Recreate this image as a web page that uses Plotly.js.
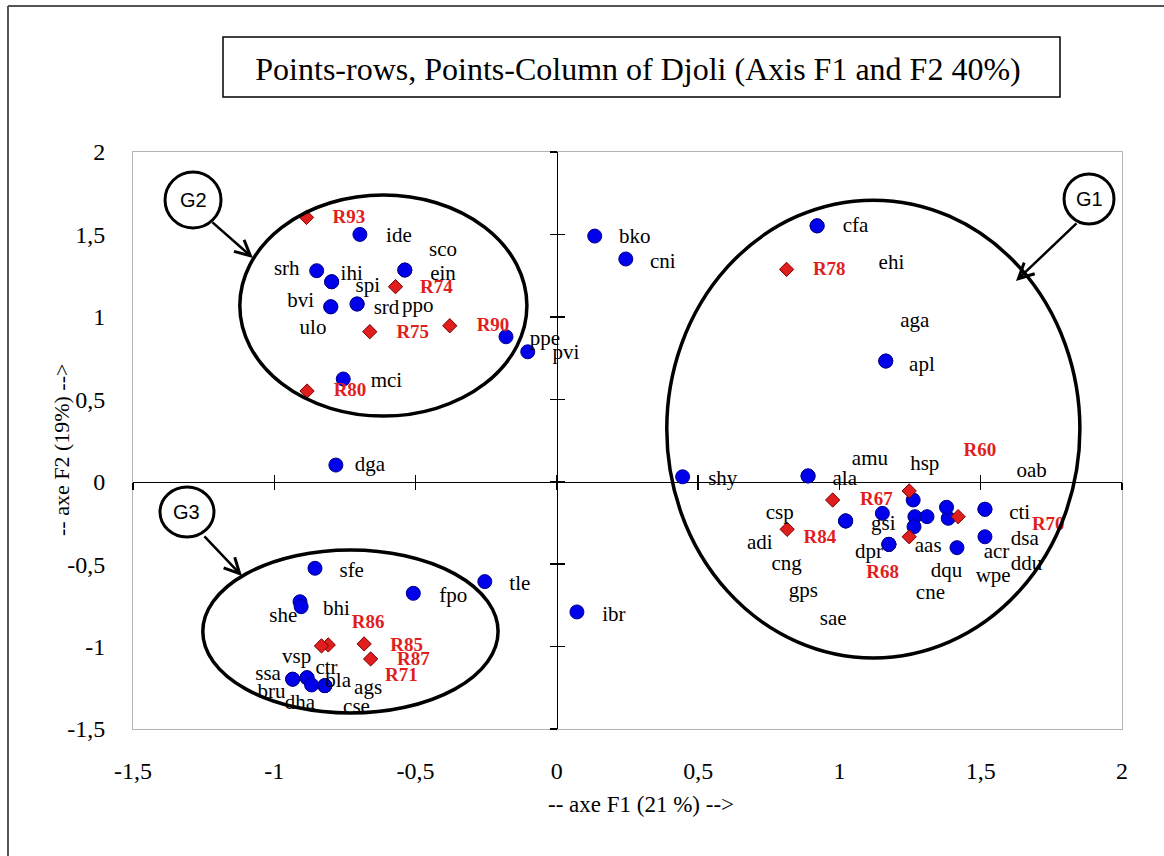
<!DOCTYPE html>
<html>
<head>
<meta charset="utf-8">
<script src="https://cdn.plot.ly/plotly-3.0.1.min.js"></script>
<style>html,body{margin:0;padding:0;background:#fff;}#chart{width:1164px;height:856px;}</style>
</head>
<body>
<div id="chart"></div>
<script>
// ---- Column points (species) ----
const colNames = ["ide","sco","srh","ihi","ein","spi","bvi","srd","ppo","ulo","mci","ppe","pvi","dga","bko","cni",
  "cfa","ehi","aga","apl","shy","ala","amu","hsp","oab","csp","adi","cng","gps","sae","gsi","dpr","aas","dqu","cne",
  "cti","dsa","acr","ddu","wpe","sfe","fpo","tle","she","bhi","ibr","vsp","ssa","ctr","bla","ags","bru","dha","cse"];
const colF1 = [-0.697,-0.538,-0.850,-0.797,-0.538,-0.797,-0.800,-0.707,-0.707,-0.800,-0.756,-0.180,-0.103,-0.782,0.134,0.244,
  0.921,0.921,1.164,1.164,0.445,0.889,0.889,1.261,1.515,1.022,1.022,1.022,1.175,1.175,1.152,1.175,1.267,1.264,1.310,
  1.515,1.515,1.416,1.385,1.379,-0.856,-0.508,-0.255,-0.909,-0.905,0.071,-0.884,-0.935,-0.884,-0.821,-0.821,-0.935,-0.868,-0.821];
const colF2 = [1.500,1.284,1.280,1.213,1.284,1.213,1.061,1.078,1.078,1.061,0.623,0.879,0.788,0.101,1.490,1.351,
  1.552,1.552,0.732,0.732,0.030,0.035,0.035,-0.111,-0.167,-0.238,-0.238,-0.238,-0.380,-0.380,-0.192,-0.380,-0.212,-0.273,-0.212,
  -0.167,-0.334,-0.400,-0.222,-0.155,-0.525,-0.677,-0.606,-0.728,-0.758,-0.790,-1.189,-1.198,-1.189,-1.237,-1.237,-1.198,-1.233,-1.237];
const colLabelF1 = [-0.559,-0.403,-0.956,-0.726,-0.403,-0.669,-0.907,-0.603,-0.492,-0.863,-0.603,-0.042,0.032,-0.662,0.276,0.375,
  1.057,1.184,1.267,1.292,0.587,1.019,1.108,1.302,1.680,0.789,0.718,0.813,0.872,0.978,1.155,1.105,1.314,1.379,1.322,
  1.638,1.656,1.556,1.662,1.544,-0.726,-0.367,-0.131,-0.968,-0.780,0.202,-0.921,-1.022,-0.815,-0.774,-0.668,-1.010,-0.909,-0.709];
const colLabelF2 = [1.484,1.399,1.284,1.253,1.253,1.183,1.092,1.052,1.061,0.926,0.606,0.859,0.774,0.095,1.478,1.327,
  1.546,1.324,0.970,0.702,0.010,0.010,0.132,0.101,0.061,-0.192,-0.374,-0.505,-0.667,-0.839,-0.263,-0.431,-0.394,-0.546,-0.677,
  -0.192,-0.354,-0.431,-0.505,-0.576,-0.546,-0.697,-0.626,-0.822,-0.778,-0.815,-1.065,-1.172,-1.132,-1.213,-1.253,-1.283,-1.344,-1.374];

// ---- Row points (relevés) ----
const rowNames = ["R93","R74","R75","R90","R80","R78","R60","R67","R84","R68","R70","R86","R85","R87","R71"];
const rowF1 = [-0.886,-0.571,-0.662,-0.379,-0.884,0.813,1.247,0.976,0.815,1.247,1.420,-0.809,-0.682,-0.659,-0.833];
const rowF2 = [1.603,1.183,0.910,0.946,0.550,1.288,-0.056,-0.111,-0.289,-0.334,-0.212,-0.990,-0.984,-1.075,-0.996];
const rowLabelF1 = [-0.736,-0.426,-0.510,-0.226,-0.732,0.964,1.497,1.131,0.931,1.153,1.739,-0.668,-0.532,-0.508,-0.550];
const rowLabelF2 = [1.597,1.173,0.902,0.946,0.546,1.284,0.182,-0.111,-0.343,-0.555,-0.263,-0.859,-0.996,-1.085,-1.183];

// ---- Groups (ellipse extents in F1/F2 units) ----
const groupNames = ["G1","G2","G3"];
const groupF1min = [0.389,-1.122,-1.253];
const groupF1max = [1.851,-0.106,-0.208];
const groupF2min = [-1.069,0.398,-1.403];
const groupF2max = [1.708,1.739,-0.414];

// ---- Axis ticks ----
const tickValues = [-1.5,-1,-0.5,0,0.5,1,1.5,2];
const tickLabels = ["-1,5","-1","-0,5","0","0,5","1","1,5","2"];

const SERIF = "Liberation Serif";
const range = [-1.5, 2];
const zeroPos = 1.5/3.5;

const traces = [
  {x: [-10], y: [-10], xaxis: 'x', yaxis: 'y', type: 'scatter', mode: 'markers', showlegend: false, hoverinfo: 'skip', marker: {opacity: 0}},
  {x: [-10], y: [-10], xaxis: 'x2', yaxis: 'y2', type: 'scatter', mode: 'markers', showlegend: false, hoverinfo: 'skip', marker: {opacity: 0}},
  {x: colF1, y: colF2, xaxis: 'x3', yaxis: 'y3', type: 'scatter', mode: 'markers', name: 'Colonnes',
   marker: {symbol: 'circle', size: 14, color: 'rgb(0,0,235)', line: {width: 1, color: 'rgb(0,0,140)'}}, showlegend: false},
  {x: rowF1, y: rowF2, xaxis: 'x3', yaxis: 'y3', type: 'scatter', mode: 'markers', name: 'Lignes',
   marker: {symbol: 'diamond', size: 11, color: 'rgb(225,30,30)', line: {width: 1, color: 'rgb(120,0,0)'}}, showlegend: false},
  {x: colLabelF1, y: colLabelF2, text: colNames, xaxis: 'x3', yaxis: 'y3', type: 'scatter', mode: 'text',
   textposition: 'middle center', textfont: {family: SERIF, size: 21, color: '#000'}, showlegend: false, hoverinfo: 'skip'},
  {x: rowLabelF1, y: rowLabelF2, text: rowNames, xaxis: 'x3', yaxis: 'y3', type: 'scatter', mode: 'text',
   textposition: 'middle center', textfont: {family: SERIF, size: 19, color: 'rgb(225,30,30)', weight: 'bold'}, showlegend: false, hoverinfo: 'skip'}
];

const baseAxis = {range: range, showgrid: false, zeroline: false, fixedrange: true, layer: 'below traces'};
function zeroAxis(over, ticksDir) {
  return Object.assign({}, baseAxis, {overlaying: over, anchor: 'free', position: zeroPos,
    showline: true, linecolor: '#000', linewidth: 1.3, ticks: ticksDir, ticklen: 7, tickwidth: 1.3, tickcolor: '#000',
    tickmode: 'array', tickvals: tickValues, showticklabels: false});
}

const shapes = [];
for (let i = 0; i < groupNames.length; i++) {
  shapes.push({type: 'circle', xref: 'x', yref: 'y', x0: groupF1min[i], x1: groupF1max[i], y0: groupF2min[i], y1: groupF2max[i],
    line: {color: '#000', width: 3.5}, layer: 'above'});
}
// outer frame
shapes.push({type: 'line', xref: 'paper', yref: 'paper', x0: -0.1264, x1: -0.1264, y0: -0.25, y1: 1.2530, line: {color: '#555', width: 2}});
shapes.push({type: 'line', xref: 'paper', yref: 'paper', x0: -0.1264, x1: 1.06, y0: 1.2530, y1: 1.2530, line: {color: '#555', width: 2}});
// title box
shapes.push({type: 'rect', xref: 'paper', yref: 'paper', x0: 0.0910, x1: 0.9373, y0: 1.0953, y1: 1.1993, line: {color: '#000', width: 1.5}, fillcolor: '#fff'});
// group badges
const badge = [[0.9414,0.9919,0.8752,0.9619],[0.0324,0.0890,0.8683,0.9653],[0.0273,0.0819,0.3328,0.4194]];
badge.forEach(b => shapes.push({type: 'circle', xref: 'paper', yref: 'paper', x0: b[0], x1: b[1], y0: b[2], y1: b[3],
  line: {color: '#000', width: 3}, fillcolor: '#fff', layer: 'above'}));

const annotations = [];
const badgeText = [[0.9667,0.9185],[0.0607,0.9168],[0.0546,0.3761]];
groupNames.forEach((g, i) => annotations.push({xref: 'paper', yref: 'paper', x: badgeText[i][0], y: badgeText[i][1], text: g,
  showarrow: false, font: {family: 'Liberation Sans', size: 20, color: '#000'}, xanchor: 'center', yanchor: 'middle'}));
const arrows = [[0.8928,0.7764,62,-59],[0.1213,0.8163,-42,-37],[0.1102,0.2652,-39,-41]];
arrows.forEach(a => annotations.push({xref: 'paper', yref: 'paper', x: a[0], y: a[1], ax: a[2], ay: a[3], text: '',
  showarrow: true, arrowhead: 5, arrowsize: 1.2, arrowwidth: 2.5, arrowcolor: '#000'}));
// axis titles
annotations.push({xref: 'paper', yref: 'paper', x: 0.5137, y: -0.130, text: '-- axe F1 (21 %) -->', showarrow: false,
  xanchor: 'center', yanchor: 'middle', font: {family: SERIF, size: 23, color: '#000'}});
annotations.push({xref: 'paper', yref: 'paper', x: -0.0728, y: 0.4835, text: '-- axe F2 (19%) -->', showarrow: false,
  textangle: -90, xanchor: 'center', yanchor: 'middle', font: {family: SERIF, size: 22, color: '#000'}});

const layout = {
  width: 1164, height: 856,
  margin: {l: 133, r: 42, t: 152, b: 127},
  paper_bgcolor: '#fff', plot_bgcolor: '#fff',
  showlegend: false,
  title: {text: 'Points-rows, Points-Column of Djoli (Axis F1 and F2 40%)', xref: 'container', yref: 'container',
    x: 638/1164, y: 1 - 69/856, xanchor: 'center', yanchor: 'middle', font: {family: SERIF, size: 32, color: '#000'}},
  xaxis: Object.assign({}, baseAxis, {showline: true, mirror: true, linecolor: '#b4b4b4', linewidth: 1, ticks: '',
    tickmode: 'array', tickvals: tickValues, ticktext: tickLabels, ticklabelstandoff: 20,
    tickfont: {family: SERIF, size: 24, color: '#000'}}),
  yaxis: Object.assign({}, baseAxis, {showline: true, mirror: true, linecolor: '#b4b4b4', linewidth: 1, ticks: '',
    tickmode: 'array', tickvals: tickValues, ticktext: tickLabels, ticklabelstandoff: 22,
    tickfont: {family: SERIF, size: 24, color: '#000'}}),
  xaxis2: zeroAxis('x', 'outside'),
  yaxis2: zeroAxis('y', 'outside'),
  xaxis3: zeroAxis('x', 'inside'),
  yaxis3: zeroAxis('y', 'inside'),
  shapes: shapes,
  annotations: annotations
};

Plotly.newPlot('chart', traces, layout, {displayModeBar: false, staticPlot: true});
</script>
</body>
</html>
